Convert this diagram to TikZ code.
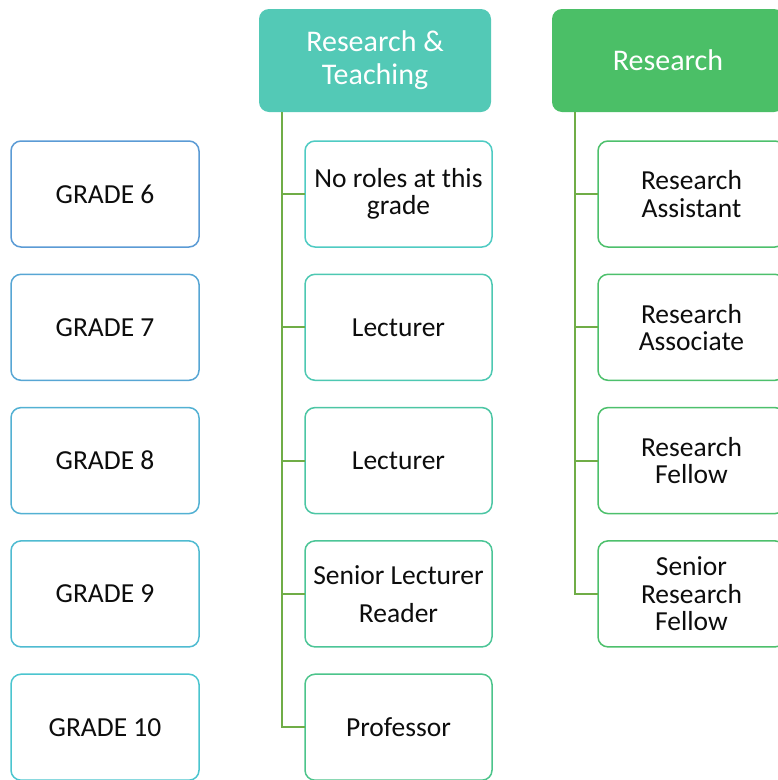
\documentclass[tikz,border=0pt]{standalone}
\usepackage{fontspec}
\setmainfont{Carlito}
\usetikzlibrary{positioning}
\definecolor{GradeSix}{HTML}{5B9BD5}
\definecolor{GradeSeven}{HTML}{57A6D4}
\definecolor{GradeEight}{HTML}{53B1D3}
\definecolor{GradeNine}{HTML}{4FBBD1}
\definecolor{GradeTen}{HTML}{4BC5CF}
\definecolor{TeachHead}{HTML}{53C9B6}
\definecolor{ResHead}{HTML}{4BBF67}
\definecolor{RoleA}{HTML}{4FCBC3}
\definecolor{RoleB}{HTML}{4DC8B2}
\definecolor{RoleC}{HTML}{4CC6A4}
\definecolor{RoleD}{HTML}{4CC597}
\definecolor{RoleE}{HTML}{4CC48B}
\definecolor{ResRole}{HTML}{4DC06C}
\definecolor{LinkGreen}{HTML}{70AD47}
\definecolor{InkBlack}{HTML}{0D0D0D}

\begin{document}
\begin{tikzpicture}[
        x=1pt, y=-1pt,
        font=\fontsize{27.5}{27.5}\selectfont,
        node distance=27.3pt and 106pt,
        grade/.style={
          draw=#1,
          line width=1.5pt,
          fill=white,
          text=InkBlack,
          rounded corners=10pt,
          align=center,
          inner sep=0pt,
          outer sep=0pt,
          minimum width=188pt,
          minimum height=106pt
        },
        role/.style={
          grade=#1,
          minimum width=187pt
        },
        head/.style={
          fill=#1,
          text=white,
          rounded corners=10pt,
          align=center,
          inner sep=0pt,
          outer sep=0pt,
          minimum width=232pt,
          minimum height=103pt,
          font=\fontsize{30}{32}\selectfont
        },
        link/.style={draw=LinkGreen, line width=2pt}
      ]
        \useasboundingbox (0,0) rectangle (778,780);
        \clip (0,0) rectangle (778,780);

        % grade column
        \node[grade=GradeSix] (g6) at (105,194) {GRADE 6};
        \node[grade=GradeSeven, below=of g6] (g7) {GRADE 7};
        \node[grade=GradeEight, below=of g7] (g8) {GRADE 8};
        \node[grade=GradeNine, below=of g8] (g9) {GRADE 9};
        \node[grade=GradeTen, below=of g9] (g10) {GRADE 10};

        % research & teaching roles
        \node[role=RoleA, right=of g6] (rt6) {No roles at this\\grade};
        \node[role=RoleB, right=of g7] (rt7) {Lecturer};
        \node[role=RoleC, right=of g8] (rt8) {Lecturer};
        \node[role=RoleD, right=of g9] (rt9) {Senior Lecturer\\[10pt]Reader};
        \node[role=RoleE, right=of g10] (rt10) {Professor};

        % research-only roles
        \node[role=ResRole, right=of rt6] (rs6) {Research\\Assistant};
        \node[role=ResRole, right=of rt7] (rs7) {Research\\Associate};
        \node[role=ResRole, right=of rt8] (rs8) {Research\\Fellow};
        \node[role=ResRole, right=of rt9] (rs9) {Senior\\Research\\Fellow};

        % column headers
        \node[head=TeachHead] (rt) at (375,60.5) {Research \&\\[1pt]Teaching};
        \node[head=ResHead] (rs) at (668,60.5) {Research};

        % trunks and branches
        \coordinate (rttrunk) at ([xshift=23pt]rt.south west);
        \coordinate (rstrunk) at ([xshift=23pt]rs.south west);
        \draw[link] (rttrunk) |- (rt10.west);
        \draw[link] (rstrunk) |- (rs9.west);
        \foreach \n in {6,7,8,9}
          \draw[link] (rt\n.west) -- (rt\n.west -| rttrunk);
        \foreach \n in {6,7,8}
          \draw[link] (rs\n.west) -- (rs\n.west -| rstrunk);
      \end{tikzpicture}
\end{document}
